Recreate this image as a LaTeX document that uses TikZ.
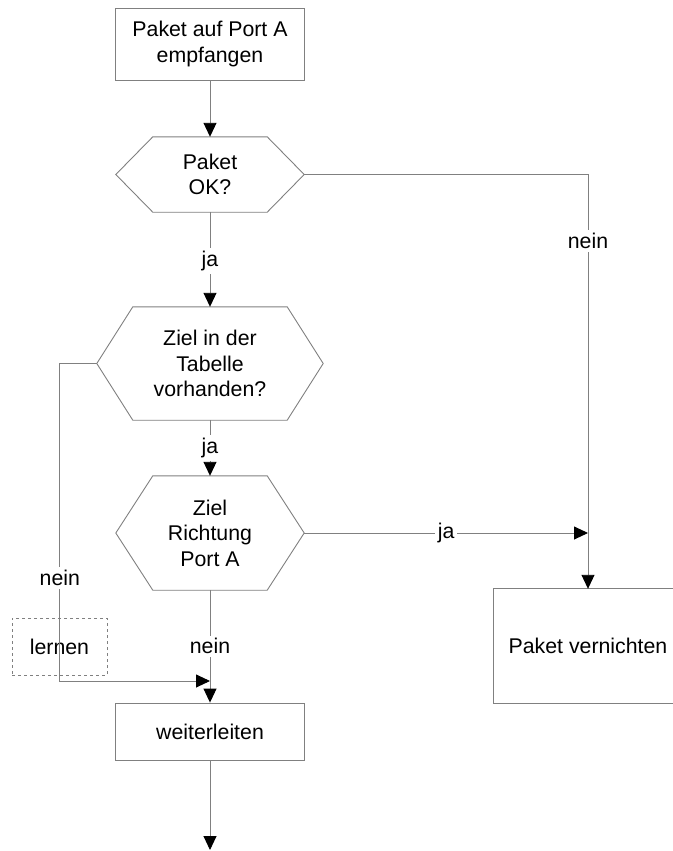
\documentclass[tikz,border=0pt]{standalone}
\usepackage{fontspec}
\setmainfont{Liberation Sans}
\usetikzlibrary{arrows.meta}

% hexagonal decision outline around a (borderless) rectangular node
\newcommand\hexoutline[2]{%
  \draw[line] ([xshift=#2]#1.north west) -- ([xshift=-#2]#1.north east) -- (#1.east)
    -- ([xshift=-#2]#1.south east) -- ([xshift=#2]#1.south west) -- (#1.west) -- cycle;}

\begin{document}
\begin{tikzpicture}[x=1pt,y=-1pt,
  every node/.style={font=\fontsize{21.3}{25.5}\selectfont, align=center, inner sep=0pt},
  line/.style={draw=black!50, line width=0.9pt},
  flow/.style={line, -{Triangle[length=14pt,width=13pt,black]}},
  procbox/.style={draw=black!50, line width=0.9pt},
  decision/.style={draw=none},
  lbl/.style={fill=white, inner sep=3pt},
  notebox/.style={draw=black!50, dashed, line width=0.6pt}]

\useasboundingbox (0,0) rectangle (672,851);

% process steps
\node[procbox, minimum width=189pt, minimum height=72pt] (recv) at (210,44) {Paket auf Port A\\empfangen};
\node[decision, minimum width=188pt, minimum height=75pt] (q1) at (210,174.5) {Paket\\OK?};
\node[decision, minimum width=226pt, minimum height=113pt] (q2) at (210,363.5) {Ziel in der\\Tabelle\\vorhanden?};
\node[decision, minimum width=188pt, minimum height=114pt] (q3) at (210,533) {Ziel\\Richtung\\Port A};
\node[procbox, minimum width=189pt, minimum height=57pt] (fwd) at (210,731.5) {weiterleiten};
\node[draw=none, minimum width=188pt, minimum height=114pt] (kill) at (588,646) {Paket vernichten};
\node[notebox, minimum width=95pt, minimum height=57pt] (learn) at (59.5,646.5) {lernen};

\hexoutline{q1}{37pt}
\hexoutline{q2}{36pt}
\hexoutline{q3}{37pt}
% the discard box is open to the right: only its left, top and bottom sides
\draw[line] ([xshift=90pt]kill.north east) -- (kill.north west) -- (kill.south west) -- ([xshift=90pt]kill.south east);

% auxiliary points
\coordinate (join) at (210,681);
\coordinate (end) at (210,850);
\coordinate (hit) at (kill.north |- q3.east);

% connectors
\draw[flow] (recv) -- (q1);
\draw[flow] (q1.south) -- node[lbl, pos=0.52] {ja} (q2.north);
\draw[flow] (q2.south) -- node[lbl] {ja} (q3.north);
\draw[flow] (q3.south) -- node[lbl] {nein} (fwd.north);
\draw[flow] (q1.east) -| node[lbl, pos=0.58] {nein} (kill.north);
\draw[flow] (q3.east) -- node[lbl] {ja} (hit);
\draw[flow] (q2.west) -- ++(-37,0) |- node[lbl, pos=0.338] {nein} (join);
\draw[flow] (fwd.south) -- (end);

\end{tikzpicture}
\end{document}
